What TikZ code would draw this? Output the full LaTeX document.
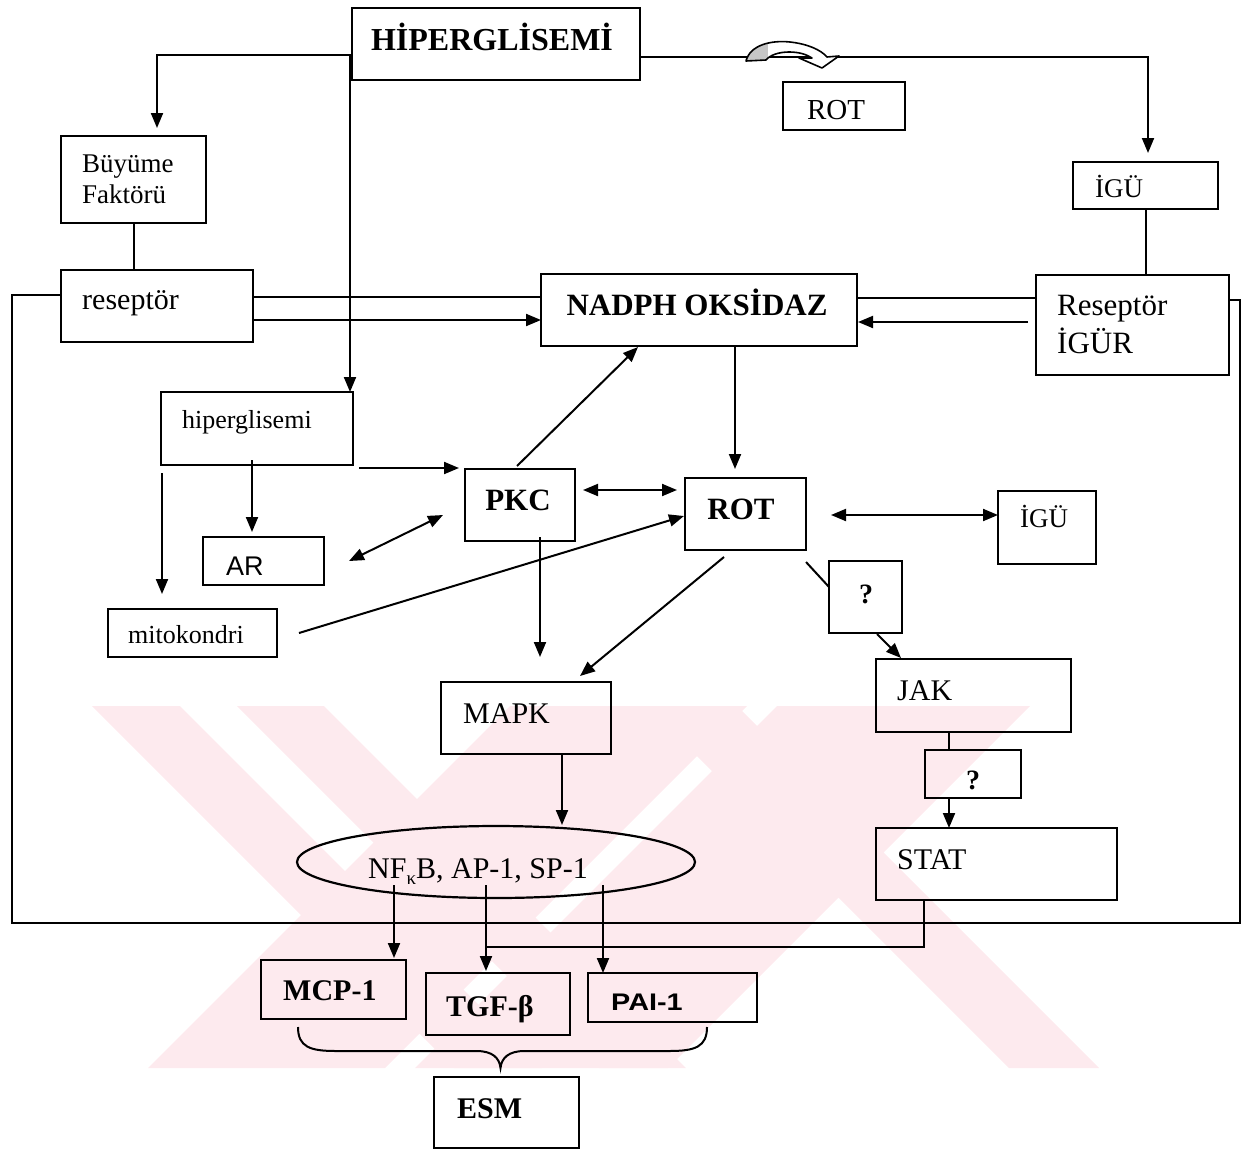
\documentclass[tikz,border=0pt]{standalone}
\usepackage{fontspec}
\setmainfont{Liberation Serif}
\newfontfamily\arialfont{Liberation Sans}
\usetikzlibrary{arrows.meta,calc,shapes.geometric}

\definecolor{wmpink}{RGB}{253,234,238}

\begin{document}
\begin{tikzpicture}[x=1pt,y=-1pt,
  bx/.style={draw, line width=2.4pt, inner sep=0pt, outer sep=0pt, anchor=north west},
  lbl/.style={inner sep=0pt, anchor=base west},
  lblc/.style={inner sep=0pt, anchor=base},
  rfs/.style={font=\fontsize{#1}{#1}\selectfont},
  bfs/.style={font=\fontsize{#1}{#1}\selectfont\bfseries},
  ln/.style={line width=2pt},
  arr/.style={line width=2pt, -{Triangle[length=15pt,width=12pt]}},
  darr/.style={line width=2pt, {Triangle[length=15pt,width=12pt]}-{Triangle[length=15pt,width=12pt]}}
]
\useasboundingbox (0,0) rectangle (1246,1151);

% faint background mark
\begin{scope}
\fill[wmpink] (92,706) -- (180,706) -- (542,1068) -- (454,1068) -- cycle;
\fill[wmpink] (237,706) -- (324,706) -- (686,1068) -- (599,1068) -- cycle;
\fill[wmpink] (510,706) -- (747,706) -- (385,1068) -- (148,1068) -- cycle;
\fill[wmpink] (647,706) -- (737,706) -- (1099,1068) -- (1009,1068) -- cycle;
\fill[wmpink] (777,706) -- (1030,706) -- (668,1068) -- (415,1068) -- cycle;
\end{scope}

% boxes
\node[bx, minimum width=288pt, minimum height=72pt] (hyper) at (352,8) {};
\node[bx, minimum width=145pt, minimum height=87pt] (buyume) at (61,136) {};
\node[bx, minimum width=192pt, minimum height=72pt] (resL) at (61,270) {};
\node[bx, minimum width=316pt, minimum height=72pt] (nadph) at (541,274) {};
\node[bx, minimum width=193pt, minimum height=100pt] (resR) at (1036,275) {};
\node[bx, minimum width=122pt, minimum height=48pt] (rotTop) at (783,82) {};
\node[bx, minimum width=145pt, minimum height=47pt] (iguTop) at (1073,162) {};
\node[bx, minimum width=192pt, minimum height=73pt] (hip) at (161,392) {};
\node[bx, minimum width=110pt, minimum height=72pt] (pkc) at (465,469) {};
\node[bx, minimum width=121pt, minimum height=72pt] (rot) at (685,478) {};
\node[bx, minimum width=98pt, minimum height=73pt] (iguMid) at (998,491) {};
\node[bx, minimum width=121pt, minimum height=48pt] (ar) at (203,537) {};
\node[bx, minimum width=169pt, minimum height=48pt] (mito) at (108,609) {};
\node[bx, minimum width=73pt, minimum height=72pt] (q1) at (829,561) {};
\node[bx, minimum width=170pt, minimum height=72pt] (mapk) at (441,682) {};
\node[bx, minimum width=195pt, minimum height=73pt] (jak) at (876,659) {};
\node[bx, minimum width=96pt, minimum height=48pt] (q2) at (925,750) {};
\node[bx, minimum width=241pt, minimum height=72pt] (stat) at (876,828) {};
\node[draw, ellipse, line width=2.2pt, inner sep=0pt, outer sep=0pt, minimum width=398pt, minimum height=72pt] (nf) at (496,862) {};
\node[bx, minimum width=145pt, minimum height=59pt] (mcp) at (261,960) {};
\node[bx, minimum width=144pt, minimum height=62pt] (tgf) at (426,973) {};
\node[bx, minimum width=169pt, minimum height=49pt] (pai) at (588,973) {};
\node[bx, minimum width=145pt, minimum height=71pt] (esm) at (434,1077) {};

% labels
\node[lblc, bfs=32] (tHyper) at (492,50) {HİPERGLİSEMİ};
\node[lbl, rfs=27] (tBuy1) at (82,172) {Büyüme};
\node[lbl, rfs=27] (tBuy2) at (82,203) {Faktörü};
\node[lbl, rfs=30] (tResL) at (82,309) {reseptör};
\node[lblc, bfs=31] (tNadph) at (697,315) {NADPH OKSİDAZ};
\node[lbl, rfs=31] (tResR1) at (1057,315) {Reseptör};
\node[lbl, rfs=31] (tResR2) at (1057,353) {İGÜR};
\node[lblc, rfs=29] (tRotTop) at (836,119) {ROT};
\node[lbl, rfs=27] (tIguTop) at (1095,197) {İGÜ};
\node[lbl, rfs=26] (tHip) at (182,428) {hiperglisemi};
\node[lblc, bfs=31] (tPkc) at (518,510) {PKC};
\node[lblc, bfs=31] (tRot) at (741,519) {ROT};
\node[lbl, rfs=27] (tIguMid) at (1020,527) {İGÜ};
\node[lbl, font=\fontsize{27}{27}\selectfont\arialfont] (tAr) at (226,575) {AR};
\node[lbl, rfs=26] (tMito) at (128,643) {mitokondri};
\node[lblc, bfs=28] (tQ1) at (866,603) {?};
\node[lbl, rfs=30] (tMapk) at (463,723) {MAPK};
\node[lbl, rfs=30] (tJak) at (897,700) {JAK};
\node[lblc, bfs=28] (tQ2) at (973,789) {?};
\node[lbl, rfs=30] (tStat) at (897,869) {STAT};
\node[lbl, rfs=30] (tNf) at (368,878) {NF\raisebox{-0.22em}{\fontsize{19}{19}\selectfont κ}B, AP-1, SP-1};
\node[lbl, bfs=30] (tMcp) at (283,1000) {MCP-1};
\node[lbl, bfs=30] (tTgf) at (446,1016) {TGF-β};
\node[lbl, font=\fontsize{24}{24}\selectfont\arialfont\bfseries] (tPai) at (611,1010) {\scalebox{1.2}[1]{PAI-1}};
\node[lbl, bfs=30] (tEsm) at (457,1118) {ESM};

% outer loop joining the two receptors
\coordinate (loopBL) at (12,923);
\coordinate (loopBR) at (1240,923);
\draw[ln] ($(resL.north west)+(0,25)$) -| (loopBL) -- (loopBR) |- ($(resR.north east)+(0,25)$);

% connectors from the top box
\coordinate (hypL) at ($(hyper.north west)+(-2,47)$);
\draw[arr] ($(hyper.north west)+(0,47)$) -| ($(buyume.north west)+(96,-8)$);
\draw[arr] (hypL) -- (hypL |- hip.north);
\draw[arr] ($(hyper.north east)+(0,49)$) -| ($(iguTop.north west)+(75,-9)$);

% curved arrow over the top line
\def\curvedarrow{(746,61) .. controls (750,45) and (771,40) .. (790,42) .. controls (808,44) and (821,50) .. (827,57) -- (839,56) -- (822,68) -- (799,58) -- (812,58) .. controls (806,54) and (798,52) .. (789,52) .. controls (779,52) and (770,55) .. (766,60) -- cycle}
\fill[white] \curvedarrow;
\begin{scope}
\clip \curvedarrow;
\fill[gray!45] (740,35) rectangle (768,70);
\end{scope}
\draw[line width=1.6pt, line join=round] \curvedarrow;

% receptor links
\draw[ln] (buyume.south) -- (buyume.south |- resL.north);
\draw[ln] (iguTop.south) -- (iguTop.south |- resR.north);
\draw[ln] ($(resL.north east)+(0,27)$) -- ($(nadph.north west)+(0,23)$);
\draw[arr] ($(resL.north east)+(0,50)$) -- ($(nadph.north west)+(0,46)$);
\draw[ln] ($(nadph.north east)+(0,24)$) -- ($(resR.north west)+(0,23)$);
\draw[arr] ($(resR.north west)+(-8,47)$) -- ($(nadph.north east)+(1,48)$);

% middle section
\draw[arr] ($(hip.south east)+(6,3)$) -- ($(pkc.north west)+(-6,-1)$);
\draw[arr] ($(hip.south west)+(91,-5)$) -- ($(ar.north west)+(49,-5)$);
\draw[arr] ($(hip.south west)+(1,8)$) -- ($(mito.north west)+(54,-15)$);
\draw[darr] ($(ar.north east)+(25,24)$) -- ($(pkc.north west)+(-22,46)$);
\draw[arr] ($(mito.north east)+(22,24)$) -- ($(rot.north west)+(-1,38)$);
\draw[arr] ($(pkc.north west)+(52,-3)$) -- ($(nadph.south west)+(97,1)$);
\draw[darr] ($(pkc.north east)+(8,21)$) -- ($(rot.north west)+(-8,12)$);
\draw[arr] ($(pkc.south west)+(75,-4)$) -- ($(mapk.north west)+(99,-25)$);
\draw[arr] ($(nadph.south west)+(194,1)$) -- ($(rot.north west)+(50,-9)$);
\draw[arr] ($(rot.south west)+(39,7)$) -- ($(mapk.north east)+(-31,-6)$);
\draw[darr] ($(rot.north east)+(25,37)$) -- ($(iguMid.north west)+(0,24)$);
\draw[ln] ($(rot.south east)+(0,12)$) -- ($(q1.north west)+(0,26)$);
\draw[arr] ($(q1.south west)+(48,1)$) -- ($(jak.north west)+(25,-1)$);
\draw[ln] ($(jak.south west)+(73,0)$) -- ($(q2.north west)+(24,0)$);
\draw[arr] ($(q2.south west)+(24,0)$) -- ($(stat.north west)+(73,0)$);

% lower section
\coordinate (nfTop) at ($(nf.north)+(66,-1)$);
\draw[arr] (nfTop |- mapk.south) -- (nfTop);
\draw[arr] ($(nf.center)+(-102,23)$) -- ($(mcp.north west)+(133,-2)$);
\draw[arr] ($(nf.center)+(-10,23)$) -- ($(tgf.north west)+(60,-2)$);
\draw[arr] ($(nf.center)+(107,23)$) -- ($(pai.north west)+(15,0)$);
\draw[ln] ($(stat.south west)+(48,0)$) |- ($(tgf.north west)+(60,-26)$);

% brace gathering the three products
\coordinate (brL) at ($(mcp.south west)+(37,8)$);
\coordinate (brR) at ($(pai.south east)+(-50,5)$);
\coordinate (brTip) at ($(esm.north)+(-6,-9)$);
\draw[ln] (brL) .. controls ($(brL)+(0,20)$) and ($(brL)+(12,24)$) .. ($(brL)+(38,24)$)
  -- ($(brTip)+(-24,-17)$) .. controls ($(brTip)+(-8,-17)$) and ($(brTip)+(-1,-10)$) .. (brTip)
  .. controls ($(brTip)+(1,-10)$) and ($(brTip)+(8,-17)$) .. ($(brTip)+(24,-17)$)
  -- ($(brR)+(-38,24)$) .. controls ($(brR)+(-12,24)$) and ($(brR)+(0,20)$) .. (brR);
\end{tikzpicture}
\end{document}
